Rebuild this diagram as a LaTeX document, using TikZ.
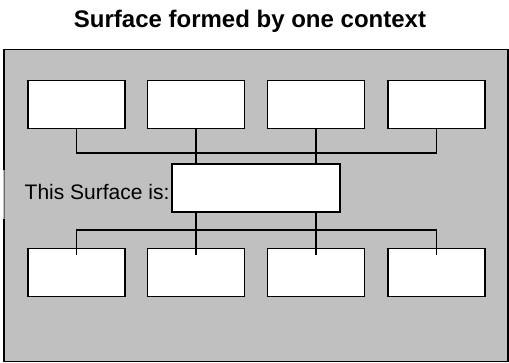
\documentclass[tikz,border=0pt]{standalone}
\usepackage{fontspec}
\setmainfont{Liberation Sans}
\definecolor{surface}{HTML}{C0C0C0}
\definecolor{edgegray}{HTML}{6E6E6E}
\begin{document}
\begin{tikzpicture}[x=1pt,y=-1pt,
  slot/.style={draw=black,fill=white,line width=1.6pt,inner sep=0pt,
    minimum width=97pt,minimum height=48pt},
  link/.style={draw=black,line width=1.4pt},
  frame/.style={draw=black,fill=surface,line width=1.8pt}]
  \useasboundingbox (0,0) rectangle (509,363);

  % title
  \node[anchor=base,font=\bfseries\fontsize{24}{29}\selectfont,inner sep=0pt]
    (title) at (250,27.3) {Surface formed by one context};

  % the surface
  \path[frame] (4,49.5) rectangle (508,361.5);

  % label sitting on the left edge of the surface
  \node[fill=surface,inner sep=0pt,minimum width=169pt,minimum height=49pt,anchor=north west]
    (lblbox) at (3,170) {};
  \draw[edgegray,line width=0.8pt] (lblbox.north west) ++(1,0) -- ([xshift=1pt]lblbox.south west);
  \node[anchor=base west,font=\fontsize{21}{25}\selectfont,inner sep=0pt]
    (lbl) at (24.5,200) {This Surface is:};

  % boxes
  \node[slot] (t1) at (76.5,104.5) {};
  \node[slot] (t2) at (196,104.5) {};
  \node[slot] (t3) at (316,104.5) {};
  \node[slot] (t4) at (436.5,104.5) {};
  \node[slot,minimum width=168pt] (m) at (256,188) {};
  \node[slot] (b1) at (76.5,272.5) {};
  \node[slot] (b2) at (196,272.5) {};
  \node[slot] (b3) at (316,272.5) {};
  \node[slot] (b4) at (436.5,272.5) {};

  % bus levels
  \coordinate (busA) at (0,153);
  \coordinate (busB) at (0,230);

  % upper connectors
  \draw[link] (t1.south) -- (t1.south |- busA) -- (t4.south |- busA) -- (t4.south);
  \draw[link] (t2.south) -- (t2.south |- m.north);
  \draw[link] (t3.south) -- (t3.south |- m.north);

  % lower connectors
  \draw[link] ([yshift=-7pt]b1.north) -- (b1.north |- busB) -- (b4.north |- busB) -- ([yshift=-7pt]b4.north);
  \draw[link] (m.south -| b2.north) -- ([yshift=-7pt]b2.north);
  \draw[link] (m.south -| b3.north) -- ([yshift=-7pt]b3.north);
\end{tikzpicture}
\end{document}
